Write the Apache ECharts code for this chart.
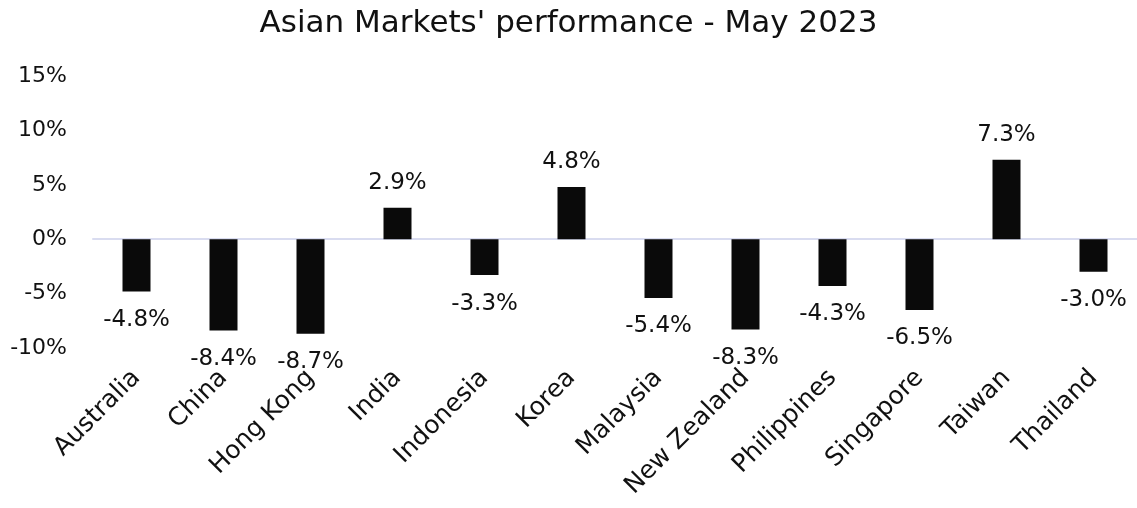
<!DOCTYPE html>
<html><head><meta charset="utf-8">
<script src="https://cdn.jsdelivr.net/npm/echarts@6/dist/echarts.min.js"></script>
<style>html,body{margin:0;padding:0;background:#fff}#c{width:1137px;height:508px}</style>
</head><body><div id="c"></div>
<script>
const categories = ['Australia','China','Hong Kong','India','Indonesia','Korea','Malaysia','New Zealand','Philippines','Singapore','Taiwan','Thailand'];
const values = [-4.8,-8.4,-8.7,2.9,-3.3,4.8,-5.4,-8.3,-4.3,-6.5,7.3,-3.0];
const yTicks = [-10,-5,0,5,10,15];
const title = "Asian Markets' performance - May 2023";
const FONT = 'DejaVu Sans';
const chart = echarts.init(document.getElementById('c'));
chart.setOption({
  animation:false,
  title:{text:title,left:'center',top:3,textStyle:{fontFamily:FONT,fontWeight:'normal',fontSize:31,color:'#111'}},
  grid:{left:93,right:0,top:76,bottom:160,containLabel:false},
  xAxis:{type:'category',data:categories,
    axisLine:{onZero:true,lineStyle:{color:'#d9dcf0',width:2}},
    axisTick:{show:false},
    axisLabel:{rotate:45,fontFamily:FONT,fontSize:25,color:'#111',margin:26,interval:0}},
  yAxis:{type:'value',min:yTicks[0],max:yTicks[yTicks.length-1],interval:5,
    splitLine:{show:false},axisLine:{show:false},axisTick:{show:false},
    axisLabel:{formatter:v=>v+'%',fontFamily:FONT,fontSize:22,color:'#111',margin:26}},
  series:[{type:'bar',barWidth:28,
    data:values.map(v=>({value:v,label:{position:v<0?'bottom':'top',distance:v<0?17:13}})),
    itemStyle:{color:'#0a0a0a'},
    label:{show:true,formatter:p=>p.value.toFixed(1)+'%',fontFamily:FONT,fontSize:23,color:'#111'}}]
});
</script></body></html>
